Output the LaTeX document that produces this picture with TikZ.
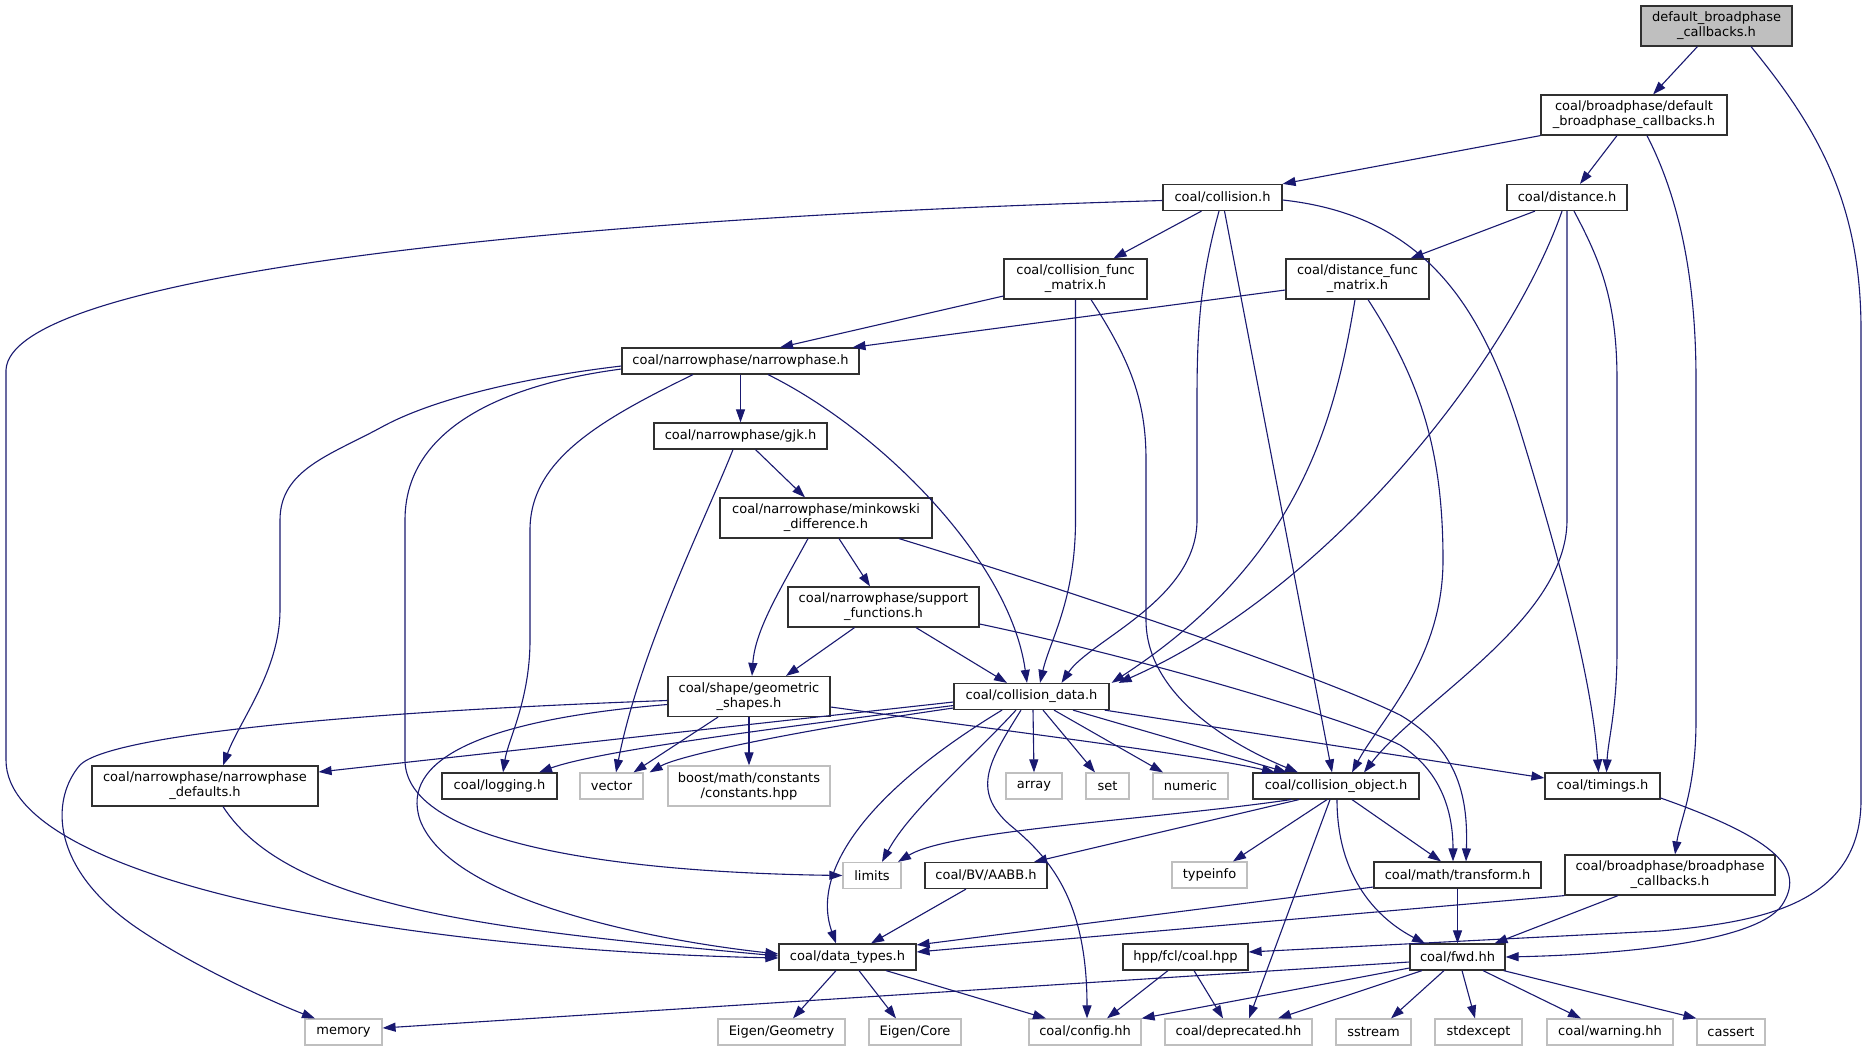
\documentclass[tikz,border=0pt]{standalone}
\usepackage{fontspec}
\setmainfont{DejaVu Sans}
\usetikzlibrary{arrows.meta}
\definecolor{edgec}{HTML}{191970}
\definecolor{extc}{HTML}{BFBFBF}
\definecolor{docc}{HTML}{303030}
\begin{document}
\begin{tikzpicture}[x=1pt,y=-1pt,
  box/.style={draw=docc, line width=1.2pt, fill=white, rectangle, inner sep=0pt,
    minimum height=26pt, font=\fontsize{13pt}{15pt}\selectfont, align=center, text=black},
  ext/.style={box, draw=extc},
  two/.style={minimum height=40pt},
  wd/.style={minimum width=#1},
  e/.style={draw=edgec, line width=1.1pt, -{Triangle[length=13pt,width=9pt]}}]
\useasboundingbox (0,0) rectangle (1868,1051);
\fill[white] (0,0) rectangle (1868,1051);
% nodes
\node[box,two,wd=151pt,fill=extc] (root) at (1716.5,26) {default\_broadphase\\\_callbacks.h};
\node[box,two,wd=186pt] (bpdef) at (1634,115) {coal/broadphase/default\\\_broadphase\_callbacks.h};
\node[box,wd=119pt] (coll) at (1222.5,197.5) {coal/collision.h};
\node[box,wd=120pt] (dist) at (1567,197.5) {coal/distance.h};
\node[box,two,wd=143pt] (cfm) at (1075.5,279) {coal/collision\_func\\\_matrix.h};
\node[box,two,wd=143pt] (dfm) at (1357.5,279) {coal/distance\_func\\\_matrix.h};
\node[box,wd=237pt] (np) at (740.5,361) {coal/narrowphase/narrowphase.h};
\node[box,wd=173pt] (gjk) at (740.5,436) {coal/narrowphase/gjk.h};
\node[box,two,wd=212pt] (mink) at (826,518) {coal/narrowphase/minkowski\\\_difference.h};
\node[box,two,wd=191pt] (supp) at (883.5,607) {coal/narrowphase/support\\\_functions.h};
\node[box,two,wd=162pt] (geom) at (749,696.5) {coal/shape/geometric\\\_shapes.h};
\node[box,wd=155pt] (cdata) at (1031.5,696.5) {coal/collision\_data.h};
\node[box,two,wd=226pt] (ndef) at (205,786) {coal/narrowphase/narrowphase\\\_defaults.h};
\node[box,wd=115pt] (logging) at (499.5,786) {coal/logging.h};
\node[ext,wd=63pt] (vector) at (611.5,786) {vector};
\node[ext,two,wd=162pt] (boost) at (749,786) {boost/math/constants\\/constants.hpp};
\node[ext,wd=56pt] (array) at (1034,786) {array};
\node[ext,wd=43pt] (set) at (1107.5,786) {set};
\node[ext,wd=75pt] (numeric) at (1190.5,786) {numeric};
\node[box,wd=166pt] (collobj) at (1336,786) {coal/collision\_object.h};
\node[box,wd=115pt] (timings) at (1602.5,786) {coal/timings.h};
\node[ext,wd=58pt] (limits) at (872,875.5) {limits};
\node[box,wd=122pt] (aabb) at (986,875.5) {coal/BV/AABB.h};
\node[ext,wd=75pt] (typeinfo) at (1209.5,875) {typeinfo};
\node[box,wd=167pt] (transform) at (1457.5,875) {coal/math/transform.h};
\node[box,two,wd=210pt] (bpcb) at (1670,875) {coal/broadphase/broadphase\\\_callbacks.h};
\node[box,wd=137pt] (dtypes) at (847.5,957) {coal/data\_types.h};
\node[box,wd=125pt] (coalhpp) at (1185.5,957) {hpp/fcl/coal.hpp};
\node[box,wd=95pt] (fwd) at (1457.5,957) {coal/fwd.hh};
\node[ext,wd=77pt] (memory) at (343.5,1032) {memory};
\node[ext,wd=127pt] (eigeo) at (781.5,1032) {Eigen/Geometry};
\node[ext,wd=92pt] (eicore) at (915,1032) {Eigen/Core};
\node[ext,wd=112pt] (config) at (1085,1032) {coal/config.hh};
\node[ext,wd=147pt] (deprec) at (1238.5,1032) {coal/deprecated.hh};
\node[ext,wd=75pt] (sstream) at (1373.5,1032) {sstream};
\node[ext,wd=87pt] (stdexcept) at (1478.5,1032) {stdexcept};
\node[ext,wd=126pt] (warning) at (1610,1032) {coal/warning.hh};
\node[ext,wd=68pt] (cassert) at (1731,1032) {cassert};
% edges
\draw[e] (root) -- (bpdef);
\draw[e] ([xshift=34.5pt]root.south) .. controls (1815,125) and (1861,200) .. (1861,330) -- (1861,800) .. controls (1861,905) and (1760,922) .. (1660,931) -- ([yshift=5pt]coalhpp.east);
\draw[e] (bpdef.south west) -- (coll.north east);
\draw[e] ([xshift=-17pt]bpdef.south) -- ([xshift=13pt]dist.north);
\draw[e] ([xshift=13pt]bpdef.south) .. controls (1680,200) and (1696,280) .. (1696,380) -- (1696,720) .. controls (1696,790) and (1680,820) .. ([xshift=5pt]bpcb.north);
\draw[e] ([yshift=-3pt]coll.west) .. controls (500,220) and (10,280) .. (6,370) -- (6,760) .. controls (6,880) and (400,950) .. ([yshift=-1pt]dtypes.west);
\draw[e] ([xshift=-21pt]coll.south) -- ([xshift=38pt]cfm.north);
\draw[e] ([xshift=-3.5pt]coll.south) .. controls (1200,280) and (1197,330) .. (1197,400) -- (1197,520) .. controls (1197,600) and (1090,640) .. ([xshift=30pt]cdata.north);
\draw[e] ([xshift=2pt]coll.south) -- ([xshift=-4pt]collobj.north);
\draw[e] ([yshift=-2.5pt]coll.east) .. controls (1420,215) and (1480,300) .. (1520,430) .. controls (1560,560) and (1592,680) .. ([xshift=-4pt]timings.north);
\draw[e] ([xshift=-32pt]dist.south) -- ([xshift=53pt]dfm.north);
\draw[e] ([xshift=-5pt]dist.south) .. controls (1510,360) and (1330,590) .. ([xshift=9pt]cdata.north east);
\draw[e] (dist.south) -- (1567,520) .. controls (1567,620) and (1420,700) .. ([xshift=28pt]collobj.north);
\draw[e] ([xshift=7pt]dist.south) .. controls (1600,260) and (1617,300) .. (1617,380) -- (1617,650) .. controls (1617,710) and (1608,740) .. ([xshift=4pt]timings.north);
\draw[e] ([yshift=-17pt]cfm.west) -- ([xshift=39.5pt]np.north);
\draw[e] (cfm.south) -- (1075.5,520) .. controls (1075.5,600) and (1050,640) .. ([xshift=8.5pt]cdata.north);
\draw[e] ([xshift=15.5pt]cfm.south) .. controls (1130,360) and (1146,400) .. (1146,460) -- (1146,620) .. controls (1146,690) and (1220,740) .. ([xshift=-38pt]collobj.north);
\draw[e] ([yshift=-11pt]dfm.west) -- ([xshift=112pt]np.north);
\draw[e] ([xshift=-2.5pt]dfm.south) .. controls (1335,420) and (1300,560) .. ([xshift=2pt]cdata.north east);
\draw[e] ([xshift=10.5pt]dfm.south) .. controls (1420,380) and (1443,450) .. (1443,560) .. controls (1443,660) and (1380,720) .. ([xshift=16pt]collobj.north);
\draw[e] (np) -- (gjk);
\draw[e] ([yshift=-5pt]np.west) .. controls (520,378) and (430,400) .. (380,428) .. controls (330,455) and (280,470) .. (280,520) -- (280,610) .. controls (280,670) and (240,720) .. ([xshift=18pt]ndef.north);
\draw[e] ([yshift=-8pt]np.west) .. controls (500,385) and (405,430) .. (405,520) -- (405,760) .. controls (405,840) and (600,872) .. (limits.west);
\draw[e] ([xshift=-47.5pt]np.south) .. controls (600,420) and (530,460) .. (530,530) -- (530,640) .. controls (530,700) and (508,740) .. ([xshift=3.5pt]logging.north);
\draw[e] ([xshift=27.5pt]np.south) .. controls (880,430) and (1010,560) .. ([xshift=-4.5pt]cdata.north);
\draw[e] ([xshift=15pt]gjk.south) -- ([xshift=-21pt]mink.north);
\draw[e] ([xshift=-7.5pt]gjk.south) .. controls (705,520) and (640,650) .. ([xshift=4.5pt]vector.north);
\draw[e] ([xshift=13pt]mink.south) -- ([xshift=-13.5pt]supp.north);
\draw[e] ([xshift=-18pt]mink.south) .. controls (780,590) and (755,630) .. ([xshift=3pt]geom.north);
\draw[e] ([xshift=73pt]mink.south) .. controls (1100,600) and (1330,680) .. (1400,715) .. controls (1460,750) and (1468,800) .. ([xshift=8.5pt]transform.north);
\draw[e] ([xshift=-29pt]supp.south) -- ([xshift=37pt]geom.north);
\draw[e] ([xshift=32.5pt]supp.south) -- ([xshift=-24.5pt]cdata.north);
\draw[e] ([yshift=-17pt]supp.east) .. controls (1150,660) and (1350,720) .. (1400,745) .. controls (1440,770) and (1453,810) .. ([xshift=-4.5pt]transform.north);
\draw[e] ([yshift=-4pt]geom.west) .. controls (350,712) and (110,735) .. (80,765) .. controls (50,800) and (50,870) .. (140,930) .. controls (200,970) and (280,1005) .. ([xshift=-28.5pt]memory.north);
\draw[e] ([yshift=-8pt]geom.west) .. controls (480,720) and (400,760) .. (420,820) .. controls (450,900) and (650,940) .. ([yshift=3pt]dtypes.west);
\draw[e] ([xshift=-31pt]geom.south) -- ([xshift=22pt]vector.north);
\draw[e] (geom.south) -- (boost.north);
\draw[e] ([yshift=-10.5pt]geom.east) .. controls (1000,730) and (1200,755) .. ([xshift=-61pt]collobj.north);
\draw[e] ([yshift=-5.5pt]cdata.west) -- ([yshift=14pt]ndef.east);
\draw[e] ([yshift=-9pt]cdata.west) .. controls (800,725) and (600,750) .. ([xshift=39.5pt]logging.north);
\draw[e] ([yshift=-11.5pt]cdata.west) .. controls (800,730) and (680,755) .. ([xshift=6pt]vector.north east);
\draw[e] ([xshift=-15.5pt]cdata.south) .. controls (970,760) and (910,810) .. ([xshift=10pt]limits.north);
\draw[e] ([xshift=-29.5pt]cdata.south) .. controls (870,790) and (810,870) .. ([xshift=-11.5pt]dtypes.north);
\draw[e] ([xshift=-10.5pt]cdata.south) .. controls (990,760) and (970,790) .. (1010,825) .. controls (1050,858) and (1087,900) .. ([xshift=2pt]config.north);
\draw[e] ([xshift=1.5pt]cdata.south) -- (array.north);
\draw[e] ([xshift=11.5pt]cdata.south) -- ([xshift=-12.5pt]set.north);
\draw[e] ([xshift=22.5pt]cdata.south) -- ([xshift=-27.5pt]numeric.north);
\draw[e] ([xshift=41.5pt]cdata.south) -- ([xshift=-49pt]collobj.north);
\draw[e] ([xshift=-5pt]cdata.south east) -- ([yshift=8pt]timings.west);
\draw[e] ([xshift=-45pt]collobj.south) .. controls (1150,820) and (950,830) .. ([xshift=26pt]limits.north);
\draw[e] ([xshift=-37pt]collobj.south) -- ([xshift=48pt]aabb.north);
\draw[e] ([xshift=-9pt]collobj.south) -- ([xshift=23.5pt]typeinfo.north);
\draw[e] ([xshift=16pt]collobj.south) -- ([xshift=-16.5pt]transform.north);
\draw[e] ([xshift=1pt]collobj.south) .. controls (1337,880) and (1380,920) .. ([xshift=-32.5pt]fwd.north);
\draw[e] ([xshift=-6pt]collobj.south) -- ([xshift=10.5pt]deprec.north);
\draw[e] ([yshift=-12pt]timings.east) .. controls (1780,840) and (1805,870) .. (1782,905) .. controls (1755,945) and (1600,955) .. (fwd.east);
\draw[e] ([xshift=-20pt]aabb.south) -- ([xshift=23.5pt]dtypes.north);
\draw[e] ([yshift=-12pt]transform.west) -- ([yshift=12pt]dtypes.east);
\draw[e] (transform.south) -- (fwd.north);
\draw[e] (bpcb.south west) -- ([yshift=5pt]dtypes.east);
\draw[e] ([xshift=-52pt]bpcb.south) -- ([xshift=37pt]fwd.north);
\draw[e] ([xshift=18pt]ndef.south) .. controls (290,910) and (500,930) .. ([yshift=1pt]dtypes.west);
\draw[e] ([xshift=-11.5pt]dtypes.south) -- ([xshift=11.5pt]eigeo.north);
\draw[e] ([xshift=11.5pt]dtypes.south) -- ([xshift=-19pt]eicore.north);
\draw[e] ([xshift=38.5pt]dtypes.south) -- ([xshift=-39pt]config.north);
\draw[e] ([xshift=-17.5pt]coalhpp.south) -- ([xshift=22pt]config.north);
\draw[e] ([xshift=8.5pt]coalhpp.south) -- ([xshift=-15.5pt]deprec.north);
\draw[e] ([yshift=-5pt]fwd.west) -- ([yshift=4pt]memory.east);
\draw[e] ([yshift=-11pt]fwd.west) -- (config.north east);
\draw[e] ([xshift=-35.5pt]fwd.south) -- ([xshift=39.5pt]deprec.north);
\draw[e] ([xshift=-13.5pt]fwd.south) -- ([xshift=17.5pt]sstream.north);
\draw[e] ([xshift=4.5pt]fwd.south) -- ([xshift=-3.5pt]stdexcept.north);
\draw[e] ([xshift=25.5pt]fwd.south) -- ([xshift=-29pt]warning.north);
\draw[e] ([xshift=-2pt]fwd.south east) -- (cassert.north west);
\end{tikzpicture}
\end{document}
